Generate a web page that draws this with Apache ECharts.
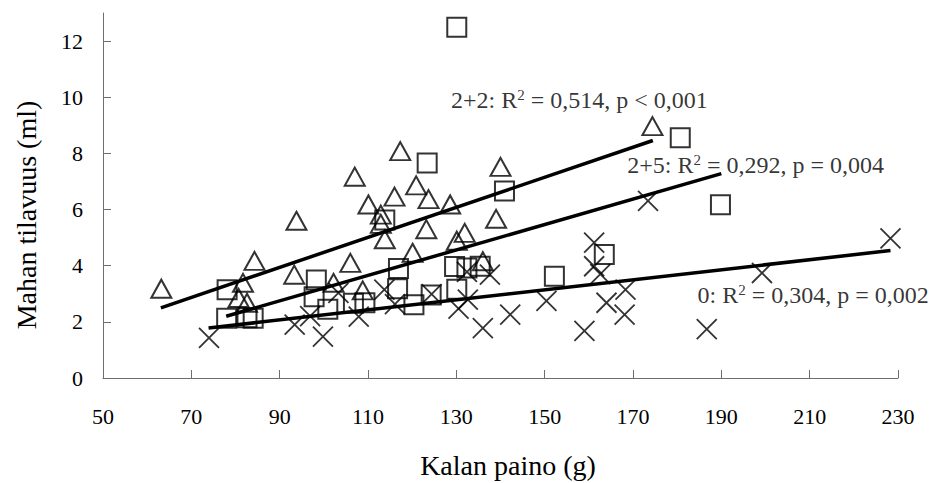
<!DOCTYPE html>
<html>
<head>
<meta charset="utf-8">
<script src="https://cdn.jsdelivr.net/npm/echarts@6/dist/echarts.min.js"></script>
<style>
html,body{margin:0;padding:0;background:#fff;}
#chart{width:936px;height:483px;}
</style>
</head>
<body>
<div id="chart"></div>
<script>
// ---- data ----
const xTicks = [50, 70, 90, 110, 130, 150, 170, 190, 210, 230];
const yTicks = [0, 2, 4, 6, 8, 10, 12];

// group "2+2" (triangles)
const group22 = [
  [63.2, 3.18], [80.7, 2.85], [81.7, 3.39], [82.6, 2.68], [84.3, 4.17],
  [93.3, 3.68], [93.8, 5.60], [102.2, 3.39], [106.0, 4.10], [107.0, 7.17],
  [108.8, 3.12], [110.1, 6.18], [112.9, 5.82], [112.9, 5.49], [113.8, 4.94],
  [116.0, 6.46], [117.3, 8.08], [120.1, 4.46], [120.9, 6.86], [123.2, 5.30],
  [123.7, 6.37], [128.6, 6.18], [130.1, 4.89], [131.9, 5.17], [136.0, 4.16],
  [139.0, 5.67], [140.0, 7.52], [174.4, 8.97]
];
// group "2+5" (squares)
const group25 = [
  [78.1, 3.14], [78.0, 2.13], [82.6, 2.15], [84.0, 2.13], [97.8, 2.89],
  [98.3, 3.49], [100.9, 2.45], [106.7, 2.66], [109.3, 2.68], [113.8, 5.63],
  [116.7, 3.18], [116.9, 3.90], [120.4, 2.61], [123.4, 7.66], [124.3, 2.96],
  [129.6, 3.97], [130.1, 3.16], [130.1, 12.49], [132.4, 3.92], [135.4, 3.98],
  [140.9, 6.66], [152.2, 3.62], [163.5, 4.40], [180.7, 8.56], [189.8, 6.17]
];
// group "0" (crosses)
const group0 = [
  [74.0, 1.43], [93.4, 1.90], [96.9, 2.20], [99.8, 1.47], [103.3, 3.03],
  [107.9, 2.19], [113.7, 3.15], [116.1, 2.63], [124.4, 2.99], [130.5, 2.47],
  [132.6, 2.79], [132.4, 3.78], [137.6, 3.68], [136.0, 1.78], [142.2, 2.26],
  [150.4, 2.75], [159.0, 1.68], [161.2, 4.82], [161.2, 3.98], [162.6, 3.70],
  [164.0, 2.68], [168.3, 3.15], [168.1, 2.26], [173.4, 6.31], [186.7, 1.74],
  [199.2, 3.74], [228.3, 4.97]
];

// regression line end points
const fit22 = [[63.1, 2.50], [174.5, 8.46]];
const fit25 = [[77.9, 2.20], [190.0, 7.28]];
const fit0  = [[73.9, 1.78], [228.3, 4.54]];

// annotations: anchor (left edge, vertical middle), text pieces
const ann22 = { at: [128.8, 9.89], pre: '2+2: R', post: ' = 0,514, p < 0,001' };
const ann25 = { at: [168.7, 7.60], pre: '2+5: R', post: ' = 0,292, p = 0,004' };
const ann0  = { at: [184.6, 2.97], pre: '0: R',   post: ' = 0,304, p = 0,002' };

const xTitle = 'Kalan paino (g)';
const yTitle = 'Mahan tilavuus (ml)';

// ---- chart ----
const FONT = "'Liberation Serif', 'Times New Roman', serif";
const AXIS = '#6e6e6e';
const chart = echarts.init(document.getElementById('chart'), null, { renderer: 'svg' });

const hollow = { color: 'rgba(0,0,0,0)', borderColor: '#000', borderWidth: 2 };
const crossPath = 'path://M0,0L20,20M20,0L0,20';

function annSeries(a) {
  return {
    type: 'scatter',
    data: [a.at],
    symbolSize: 0,
    silent: true,
    z: 5,
    label: {
      show: true,
      position: 'right',
      distance: 0,
      formatter: '{t|' + a.pre + '}{s|2}{t|' + a.post + '}',
      rich: {
        t: { fontFamily: FONT, fontSize: 24, color: '#000', lineHeight: 25 },
        s: { fontFamily: FONT, fontSize: 15, color: '#000', verticalAlign: 'top', lineHeight: 14 }
      }
    }
  };
}
function fitSeries(d) {
  return {
    type: 'line', data: d, symbol: 'none', silent: true, z: 4,
    lineStyle: { color: '#000', width: 3.5 }
  };
}

chart.setOption({
  animation: false,
  backgroundColor: '#fff',
  grid: { left: 103, right: 38, top: 13, bottom: 105, containLabel: false },
  xAxis: {
    type: 'value', min: 50, max: 230, interval: 20,
    axisLine: { show: true, lineStyle: { color: AXIS, width: 1 } },
    axisTick: { show: true, inside: true, length: 8, lineStyle: { color: AXIS }, customValues: xTicks },
    axisLabel: { fontFamily: FONT, fontSize: 22, color: '#000', margin: 27, customValues: xTicks },
    splitLine: { show: false }
  },
  yAxis: {
    type: 'value', min: 0, max: 13, interval: 2,
    axisLine: { show: true, lineStyle: { color: AXIS, width: 1 } },
    axisTick: { show: true, inside: true, length: 8, lineStyle: { color: AXIS }, customValues: yTicks },
    axisLabel: { fontFamily: FONT, fontSize: 22, color: '#000', margin: 20, customValues: yTicks },
    splitLine: { show: false }
  },
  graphic: [
    { type: 'text', x: 508, y: 465,
      style: { text: xTitle, font: '28px ' + FONT, fill: '#000', align: 'center', verticalAlign: 'middle' }, z: 10 },
    { type: 'text', x: 26, y: 215, rotation: Math.PI / 2,
      style: { text: yTitle, font: '28px ' + FONT, fill: '#000', align: 'center', verticalAlign: 'middle' }, z: 10 }
  ],
  series: [
    { type: 'scatter', name: '2+2', data: group22, symbol: 'triangle', symbolSize: [20, 18], itemStyle: hollow, z: 3 },
    { type: 'scatter', name: '2+5', data: group25, symbol: 'rect', symbolSize: 19, itemStyle: hollow, z: 3 },
    { type: 'scatter', name: '0', data: group0, symbol: crossPath, symbolSize: 20,
      itemStyle: { color: 'rgba(0,0,0,0)', borderColor: '#000', borderWidth: 1.8 }, z: 3 },
    fitSeries(fit22), fitSeries(fit25), fitSeries(fit0),
    annSeries(ann22), annSeries(ann25), annSeries(ann0)
  ]
});
</script>
</body>
</html>
